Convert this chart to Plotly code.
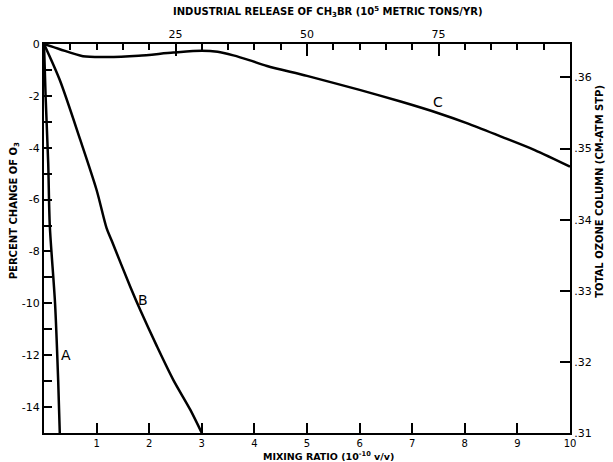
import plotly.graph_objects as go

# Curve A
a_x = [0, 0.03, 0.08, 0.11, 0.21, 0.27, 0.30]
a_y = [0, -2.0, -4.6, -7.0, -10.0, -13.0, -15.0]
# Curve B
b_x = [0, 0.30, 0.69, 1.00, 1.19, 1.29, 1.64, 1.83, 2.15, 2.46, 2.78, 3.00]
b_y = [0, -1.39, -3.70, -5.63, -7.10, -7.60, -9.36, -10.26, -11.67, -12.96, -14.10, -15.0]
# Curve C
c_x = [0, 0.30, 0.74, 1.20, 1.80, 2.46, 3.00, 3.30, 3.60, 3.90, 4.24, 5.00, 6.00, 6.78, 7.50, 8.05, 8.69, 9.33, 10.0]
c_y = [0, -0.20, -0.47, -0.50, -0.45, -0.33, -0.26, -0.30, -0.44, -0.62, -0.85, -1.23, -1.77, -2.22, -2.67, -3.06, -3.57, -4.09, -4.73]

x_ticks = [1, 2, 3, 4, 5, 6, 7, 8, 9, 10]
y_ticks = [0, -2, -4, -6, -8, -10, -12, -14]
y_ticktext = ["0", "-2", "-4", "-6", "-8", "-10", "-12", "-14"]
top_ticks = [25, 50, 75]
right_ticks = [0.31, 0.32, 0.33, 0.34, 0.35, 0.36]
right_ticktext = [".31", ".32", ".33", ".34", ".35", ".36"]

labels = [("A", 0.42, -12.0), ("B", 1.89, -9.87), ("C", 7.49, -2.22)]

FONT = "DejaVu Sans"
fig = go.Figure()
for xs, ys in [(a_x, a_y), (b_x, b_y), (c_x, c_y)]:
    fig.add_trace(go.Scatter(x=xs, y=ys, mode="lines",
                             line=dict(color="black", width=2.5, shape="spline", smoothing=0.8),
                             showlegend=False, hoverinfo="skip"))
# invisible traces to activate secondary axes
fig.add_trace(go.Scatter(x=[0, 100], y=[-20, -20], mode="lines", line=dict(width=0), xaxis="x2", yaxis="y",
                         showlegend=False, hoverinfo="skip"))
fig.add_trace(go.Scatter(x=[-5, -5], y=[0.31, 0.36], mode="lines", line=dict(width=0), xaxis="x", yaxis="y2",
                         showlegend=False, hoverinfo="skip"))

for t, x, y in labels:
    fig.add_annotation(x=x, y=y, text=t, showarrow=False, font=dict(family=FONT, size=14, color="black"))

axis_common = dict(showgrid=False, zeroline=False, showline=True, linecolor="black", linewidth=2,
                   ticks="inside", tickcolor="black", tickwidth=1.5, automargin=False)
tf11 = dict(family=FONT, size=11, color="black")
tf10 = dict(family=FONT, size=10, color="black")

fig.update_layout(
    width=613, height=462,
    margin=dict(l=44, r=43, t=44, b=29),
    paper_bgcolor="white", plot_bgcolor="white",
    xaxis=dict(range=[0, 10], tickvals=x_ticks, ticklen=10, tickfont=tf10, **axis_common),
    xaxis2=dict(range=[0, 100], overlaying="x", side="top", tickvals=top_ticks, ticklen=12, tickfont=tf11,
                minor=dict(dtick=5, tick0=0, ticklen=6, ticks="inside", tickcolor="black", tickwidth=1.5),
                **axis_common),
    yaxis=dict(range=[-15, 0], tickvals=y_ticks, ticktext=y_ticktext, ticklen=8, tickfont=tf11,
               minor=dict(dtick=1, tick0=0, ticklen=8, ticks="inside", tickcolor="black", tickwidth=1.5),
               **axis_common),
    yaxis2=dict(range=[0.31, 0.3647], overlaying="y", side="right", tickvals=right_ticks,
                ticktext=right_ticktext, ticklen=10, tickfont=tf11, **axis_common),
)

fig.add_annotation(xref="paper", yref="paper", x=0.54, y=1.0, yshift=32, xanchor="center", yanchor="middle",
                   text="<b>INDUSTRIAL RELEASE OF CH<sub>3</sub>BR (10<sup>5</sup> METRIC TONS/YR)</b>", showarrow=False,
                   font=dict(family=FONT, size=10, color="black"))
fig.add_annotation(xref="paper", yref="paper", x=0.54, y=0, yshift=-23, xanchor="center", yanchor="middle",
                   text="<b>MIXING RATIO (10<sup>-10</sup> v/v)</b>", showarrow=False,
                   font=dict(family=FONT, size=9.5, color="black"))
fig.add_annotation(xref="paper", yref="paper", x=0, xshift=-30, y=0.57, xanchor="center", yanchor="middle",
                   text="<b>PERCENT CHANGE OF O<sub>3</sub></b>", textangle=-90, showarrow=False,
                   font=dict(family=FONT, size=10, color="black"))
fig.add_annotation(xref="paper", yref="paper", x=1, xshift=30, y=0.62, xanchor="center", yanchor="middle",
                   text="<b>TOTAL OZONE COLUMN (CM-ATM STP)</b>", textangle=-90, showarrow=False,
                   font=dict(family=FONT, size=10, color="black"))

fig.write_html("out.html", config={"displayModeBar": False},
               post_script="document.body.style.margin='0';")
